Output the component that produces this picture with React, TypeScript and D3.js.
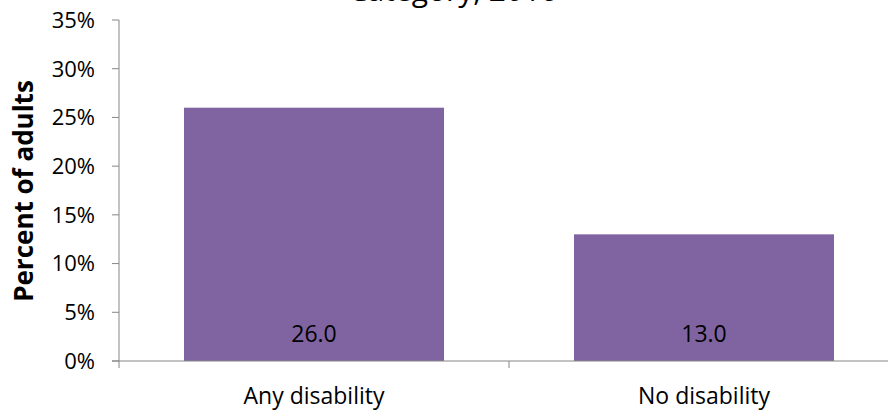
import React from "react";
import * as d3 from "d3";

const categories = ["Any disability", "No disability"];
const values = [26.0, 13.0];
const yTicks = [0, 5, 10, 15, 20, 25, 30, 35];
const title = "Category, 2016";
const yTitle = "Percent of adults";

export default function App() {
  const W = 888, H = 411;
  const left = 119, right = 899, top = 20, bottom = 361;
  const x = d3.scaleBand<string>().domain(categories).range([left, right]).paddingInner(1 / 3).paddingOuter(1 / 6);
  const y = d3.scaleLinear().domain([0, 35]).range([bottom, top]);
  const axisColor = "#868686";
  const font = "'Open Sans', sans-serif";
  const bands = d3.range(categories.length + 1).map(i => left + (i * (right - left)) / categories.length);
  return (
    <svg width={W} height={H} style={{ position: "absolute", left: 0, top: 0, background: "#fff" }} fontFamily={font}>
      <text x={453} y={1} textAnchor="middle" fontSize={30} fill="#000">{title}</text>
      {categories.map((c, i) => (
        <rect key={c} x={x(c)!} y={y(values[i])} width={x.bandwidth()} height={bottom - y(values[i])} fill="#8064A2" />
      ))}
      <line x1={left} x2={left} y1={top} y2={bottom} stroke={axisColor} strokeWidth={1} />
      {yTicks.map(t => (
        <g key={t}>
          <line x1={left - 7} x2={left} y1={y(t)} y2={y(t)} stroke={axisColor} />
          <text x={95} y={y(t)} dy="0.36em" textAnchor="end" fontSize={22} fill="#000">{t}%</text>
        </g>
      ))}
      <line x1={left - 7} x2={W} y1={bottom} y2={bottom} stroke={axisColor} />
      {bands.map(b => (
        <line key={b} x1={b} x2={b} y1={bottom} y2={bottom + 7} stroke={axisColor} />
      ))}
      {categories.map((c, i) => (
        <g key={c}>
          <text x={x(c)! + x.bandwidth() / 2} y={342} textAnchor="middle" fontSize={23} fill="#000">{values[i].toFixed(1)}</text>
          <text x={x(c)! + x.bandwidth() / 2} y={404} textAnchor="middle" fontSize={23} fill="#000">{c}</text>
        </g>
      ))}
      <text transform={`translate(33,191) rotate(-90)`} textAnchor="middle" fontSize={26} fontWeight="bold" fill="#000">{yTitle}</text>
    </svg>
  );
}
